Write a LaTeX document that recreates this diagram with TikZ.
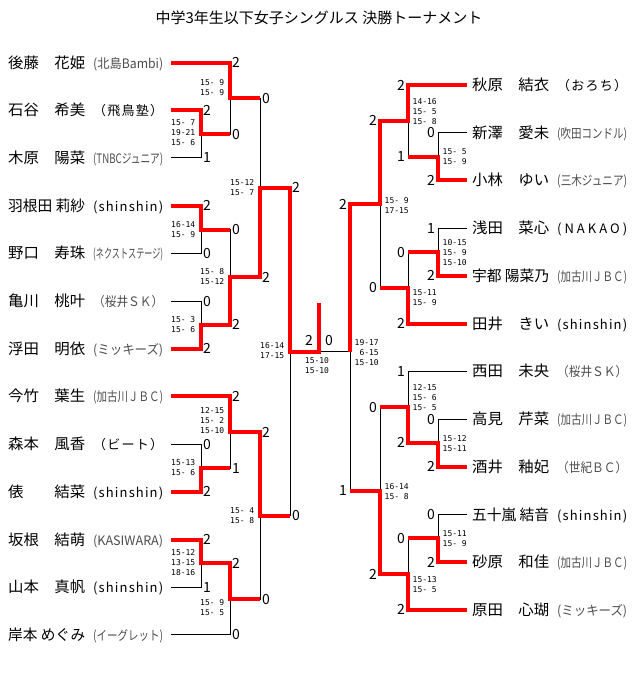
\documentclass[tikz,border=0pt]{standalone}
\usepackage{fontspec}
\usepackage{graphicx}
\setmainfont{Noto Sans CJK JP}
\newfontfamily\gamefont{DejaVu Sans Mono}
\makeatletter
\def\spreadchars#1{\spr@first#1\relax}
\def\spr@first#1{#1\spr@next}
\def\spr@next#1{\ifx\relax#1\else\hfil#1\expandafter\spr@next\fi}
\makeatother
\newsavebox\affbox
\def\nm#1{\resizebox{77pt}{\height}{#1}}
\def\aff#1{{\fontsize{13pt}{15pt}\selectfont\sbox\affbox{#1}%
  \ifdim\wd\affbox>70pt\relax\color{black!70}\resizebox{70pt}{\height}{#1}%
  \else\hbox to 70pt{\spreadchars{#1}}\fi}}
\def\player#1#2{\nm{#1}\hspace{8pt}\aff{#2}}
\tikzset{
  entry/.style={anchor=west, inner xsep=8pt, inner ysep=0pt, text height=11pt, text depth=0pt, font=\fontsize{15pt}{18pt}\selectfont},
  entryr/.style={entry, inner xsep=5pt},
  pts/.style={inner sep=0pt, text height=10pt, text depth=0pt, font=\fontsize{14pt}{16pt}\selectfont},
  games/.style={inner sep=0pt, align=left, font=\gamefont\fontsize{8pt}{10pt}\selectfont},
  bline/.style={line width=1pt},
  rline/.style={line width=4pt, red},
}
\begin{document}
\begin{tikzpicture}[x=1pt,y=-1pt]
			\useasboundingbox (0,0) rectangle (640,689);
			
			\node[font=\fontsize{15pt}{18pt}\selectfont] (title) at (319,18) {中学3年生以下女子シングルス 決勝トーナメント};
			
			%%%%% LEFT PLAYERS %%%%%
			\node[entry] (p1) at (0,62.5) {\player{後藤　花姫}{(北島Bambi)}};
			\node[entry] (p2) at (0,110.2) {\player{石谷　希美}{（飛鳥塾）}};
			\node[entry] (p3) at (0,157.9) {\player{木原　陽菜}{(TNBCジュニア)}};
			\node[entry] (p4) at (0,205.6) {\player{羽根田 莉紗}{(shinshin)}};
			\node[entry] (p5) at (0,253.3) {\player{野口　寿珠}{(ネクストステージ)}};
			\node[entry] (p6) at (0,301) {\player{亀川　桃叶}{（桜井ＳＫ）}};
			\node[entry] (p7) at (0,348.7) {\player{浮田　明依}{(ミッキーズ)}};
			\node[entry] (p8) at (0,396.4) {\player{今竹　葉生}{(加古川ＪＢＣ)}};
			\node[entry] (p9) at (0,444.1) {\player{森本　風香}{（ビート）}};
			\node[entry] (p10) at (0,491.8) {\player{俵　　結菜}{(shinshin)}};
			\node[entry] (p11) at (0,539.5) {\player{坂根　結萌}{(KASIWARA)}};
			\node[entry] (p12) at (0,587.2) {\player{山本　真帆}{(shinshin)}};
			\node[entry] (p13) at (0,634.9) {\player{岸本 めぐみ}{(イーグレット)}};
			
			%%%%% RIGHT PLAYERS %%%%%
			\node[entryr] (q1) at (467,85) {\player{秋原　結衣}{（おろち）}};
			\node[entryr] (q2) at (467,132.7) {\player{新澤　愛未}{(吹田コンドル)}};
			\node[entryr] (q3) at (467,180.4) {\player{小林　ゆい}{(三木ジュニア)}};
			\node[entryr] (q4) at (467,228.2) {\player{浅田　菜心}{(NAKAO)}};
			\node[entryr] (q5) at (467,275.9) {\player{宇都 陽菜乃}{(加古川ＪＢＣ)}};
			\node[entryr] (q6) at (467,323.6) {\player{田井　きい}{(shinshin)}};
			\node[entryr] (q7) at (467,371.3) {\player{西田　未央}{（桜井ＳＫ）}};
			\node[entryr] (q8) at (467,419) {\player{高見　芹菜}{(加古川ＪＢＣ)}};
			\node[entryr] (q9) at (467,466.8) {\player{酒井　釉妃}{（世紀ＢＣ）}};
			\node[entryr] (q10) at (467,514.5) {\player{五十嵐 結音}{(shinshin)}};
			\node[entryr] (q11) at (467,562.2) {\player{砂原　和佳}{(加古川ＪＢＣ)}};
			\node[entryr] (q12) at (467,609.9) {\player{原田　心瑚}{(ミッキーズ)}};
			
			%%%%% JUNCTIONS %%%%%
			\coordinate (jA) at (201,134);
			\coordinate (jB) at (201,229.5);
			\coordinate (jC) at (201,324.9);
			\coordinate (jD) at (201,468);
			\coordinate (jE) at (201,563.4);
			\coordinate (jF) at (230,98.3);
			\coordinate (jG) at (230,277.2);
			\coordinate (jH) at (230,432.2);
			\coordinate (jI) at (230,599.1);
			\coordinate (jJ) at (260,187.7);
			\coordinate (jK) at (260,515.7);
			\coordinate (jL) at (290,351.5);
			\coordinate (fin) at (319,351.5);
			\coordinate (fintop) at (319,303);
			\coordinate (kA) at (438,156.6);
			\coordinate (kB) at (438,252);
			\coordinate (kC) at (438,442.9);
			\coordinate (kD) at (438,538.4);
			\coordinate (kE) at (408,120.8);
			\coordinate (kF) at (408,287.8);
			\coordinate (kG) at (408,407.1);
			\coordinate (kH) at (408,574.1);
			\coordinate (kI) at (380,204.3);
			\coordinate (kJ) at (380,490.6);
			\coordinate (kK) at (350,351.5);
			
			%%%%% BLACK BRACKET %%%%%
			\draw[bline] (p2.east) -| (jA) (p3.east) -| (jA);
			\draw[bline] (p4.east) -| (jB) (p5.east) -| (jB);
			\draw[bline] (p6.east) -| (jC) (p7.east) -| (jC);
			\draw[bline] (p9.east) -| (jD) (p10.east) -| (jD);
			\draw[bline] (p11.east) -| (jE) (p12.east) -| (jE);
			\draw[bline] (p1.east) -| (jF) (jA) -| (jF);
			\draw[bline] (jB) -| (jG) (jC) -| (jG);
			\draw[bline] (p8.east) -| (jH) (jD) -| (jH);
			\draw[bline] (jE) -| (jI) (p13.east) -| (jI);
			\draw[bline] (jF) -| (jJ) (jG) -| (jJ);
			\draw[bline] (jH) -| (jK) (jI) -| (jK);
			\draw[bline] (jJ) -| (jL) (jK) -| (jL);
			\draw[bline] (jL) -- (fin) -- (kK);
			
			\draw[bline] (q2.west) -| (kA) (q3.west) -| (kA);
			\draw[bline] (q4.west) -| (kB) (q5.west) -| (kB);
			\draw[bline] (q8.west) -| (kC) (q9.west) -| (kC);
			\draw[bline] (q10.west) -| (kD) (q11.west) -| (kD);
			\draw[bline] (q1.west) -| (kE) (kA) -| (kE);
			\draw[bline] (kB) -| (kF) (q6.west) -| (kF);
			\draw[bline] (q7.west) -| (kG) (kC) -| (kG);
			\draw[bline] (kD) -| (kH) (q12.west) -| (kH);
			\draw[bline] (kE) -| (kI) (kF) -| (kI);
			\draw[bline] (kG) -| (kJ) (kH) -| (kJ);
			\draw[bline] (kI) -| (kK) (kJ) -| (kK);
			
			%%%%% WINNERS %%%%%
			\draw[rline] (p7.east) -| (jC) -| (jG) -| (jJ) -| (jL) -- (fin) -- (fintop);
			\draw[rline] (p1.east) -| (jF) -- (jF -| jJ);
			\draw[rline] (p2.east) -| (jA) -- (jA -| jF);
			\draw[rline] (p4.east) -| (jB) -- (jB -| jG);
			\draw[rline] (p8.east) -| (jH) -| (jK) -- (jK -| jL);
			\draw[rline] (p10.east) -| (jD) -- (jD -| jH);
			\draw[rline] (p11.east) -| (jE) -| (jI) -- (jI -| jK);
			
			\draw[rline] (q1.west) -| (kE) -| (kI) -| (kK);
			\draw[rline] (q3.west) -| (kA) -- (kA -| kE);
			\draw[rline] (q5.west) -| (kB) -- (kB -| kF);
			\draw[rline] (q6.west) -| (kF) -- (kF -| kI);
			\draw[rline] (q9.west) -| (kC) -| (kG) -- (kG -| kJ);
			\draw[rline] (q11.west) -| (kD) -- (kD -| kH);
			\draw[rline] (q12.west) -| (kH) -| (kJ) -- (kJ -| kK);
			
			%%%%% LEFT SCORES %%%%%
			\node[pts, anchor=west] (p1r2) at (232,62.5) {2};
			\node[pts, anchor=west] (p2r1) at (203,110.2) {2};
			\node[pts, anchor=west] (p3r1) at (203,157.9) {1};
			\node[pts, anchor=west] (p2r2) at (232,134) {0};
			\node[pts, anchor=west] (p1r3) at (262,98.3) {0};
			\node[pts, anchor=west] (p4r1) at (203,205.6) {2};
			\node[pts, anchor=west] (p5r1) at (203,253.3) {0};
			\node[pts, anchor=west] (p4r2) at (232,229.5) {0};
			\node[pts, anchor=west] (p6r1) at (203,301) {0};
			\node[pts, anchor=west] (p7r1) at (203,348.7) {2};
			\node[pts, anchor=west] (p7r2) at (232,324.9) {2};
			\node[pts, anchor=west] (p7r3) at (262,277.2) {2};
			\node[pts, anchor=west] (p7r4) at (292,187.7) {2};
			\node[pts, anchor=west] (p8r2) at (232,396.4) {2};
			\node[pts, anchor=west] (p9r1) at (203,444.1) {0};
			\node[pts, anchor=west] (p10r1) at (203,491.8) {2};
			\node[pts, anchor=west] (p10r2) at (232,468) {1};
			\node[pts, anchor=west] (p8r3) at (262,432.2) {2};
			\node[pts, anchor=west] (p11r1) at (203,539.5) {2};
			\node[pts, anchor=west] (p12r1) at (203,587.2) {1};
			\node[pts, anchor=west] (p11r2) at (232,563.4) {2};
			\node[pts, anchor=west] (p13r2) at (232,634.9) {0};
			\node[pts, anchor=west] (p11r3) at (262,599.1) {0};
			\node[pts, anchor=west] (p8r4) at (292,515.7) {0};
			\node[pts] (p7r5) at (309,340.5) {2};
			\node[pts] (q1r5) at (329,340.5) {0};
			
			%%%%% RIGHT SCORES %%%%%
			\node[pts, anchor=east] (q1r2) at (405,85) {2};
			\node[pts, anchor=east] (q2r1) at (435,132.7) {0};
			\node[pts, anchor=east] (q3r1) at (435,180.4) {2};
			\node[pts, anchor=east] (q3r2) at (405,156.6) {1};
			\node[pts, anchor=east] (q1r3) at (377,120.8) {2};
			\node[pts, anchor=east] (q1r4) at (347,204.3) {2};
			\node[pts, anchor=east] (q4r1) at (435,228.2) {1};
			\node[pts, anchor=east] (q5r1) at (435,275.9) {2};
			\node[pts, anchor=east] (q5r2) at (405,252) {0};
			\node[pts, anchor=east] (q6r2) at (405,323.6) {2};
			\node[pts, anchor=east] (q6r3) at (377,287.8) {0};
			\node[pts, anchor=east] (q7r2) at (405,371.3) {1};
			\node[pts, anchor=east] (q8r1) at (435,419) {0};
			\node[pts, anchor=east] (q9r1) at (435,466.8) {2};
			\node[pts, anchor=east] (q9r2) at (405,442.9) {2};
			\node[pts, anchor=east] (q9r3) at (377,407.1) {0};
			\node[pts, anchor=east] (q10r1) at (435,514.5) {0};
			\node[pts, anchor=east] (q11r1) at (435,562.2) {2};
			\node[pts, anchor=east] (q11r2) at (405,538.4) {0};
			\node[pts, anchor=east] (q12r2) at (405,609.9) {2};
			\node[pts, anchor=east] (q12r3) at (377,574.1) {2};
			\node[pts, anchor=east] (q12r4) at (347,490.6) {1};
			
			%%%%% GAME SCORES %%%%%
			\node[games, anchor=east] (gA) at (195.5,133) {15-~7\\19-21\\15-~6};
			\node[games, anchor=east] (gB) at (195.5,230) {16-14\\15-~9};
			\node[games, anchor=east] (gC) at (195.5,324.5) {15-~3\\15-~6};
			\node[games, anchor=east] (gD) at (195.5,468) {15-13\\15-~6};
			\node[games, anchor=east] (gE) at (195.5,563) {15-12\\13-15\\18-16};
			\node[games, anchor=east] (gF) at (224.5,88) {15-~9\\15-~9};
			\node[games, anchor=east] (gG) at (224.5,276.5) {15-~8\\15-12};
			\node[games, anchor=east] (gH) at (224.5,421) {12-15\\15-~2\\15-10};
			\node[games, anchor=east] (gI) at (224.5,608) {15-~9\\15-~5};
			\node[games, anchor=east] (gJ) at (254.5,188) {15-12\\15-~7};
			\node[games, anchor=east] (gK) at (254.5,516) {15-~4\\15-~8};
			\node[games, anchor=east] (gL) at (284.5,351) {16-14\\17-15};
			\node[games] (gfin) at (317,366) {15-10\\15-10};
			\node[games, anchor=west] (hK) at (354.5,353) {19-17\\~6-15\\15-10};
			\node[games, anchor=west] (hI) at (384.5,206) {15-~9\\17-15};
			\node[games, anchor=west] (hJ) at (384.5,492) {16-14\\15-~8};
			\node[games, anchor=west] (hE) at (412.5,111.5) {14-16\\15-~5\\15-~8};
			\node[games, anchor=west] (hF) at (412.5,298) {15-11\\15-~9};
			\node[games, anchor=west] (hG) at (412.5,397.5) {12-15\\15-~6\\15-~5};
			\node[games, anchor=west] (hH) at (412.5,585) {15-13\\15-~5};
			\node[games, anchor=west] (hA) at (442.5,157) {15-~5\\15-~9};
			\node[games, anchor=west] (hB) at (442.5,253) {10-15\\15-~9\\15-10};
			\node[games, anchor=west] (hC) at (442.5,444) {15-12\\15-11};
			\node[games, anchor=west] (hD) at (442.5,539) {15-11\\15-~9};
			
		\end{tikzpicture}
\end{document}
